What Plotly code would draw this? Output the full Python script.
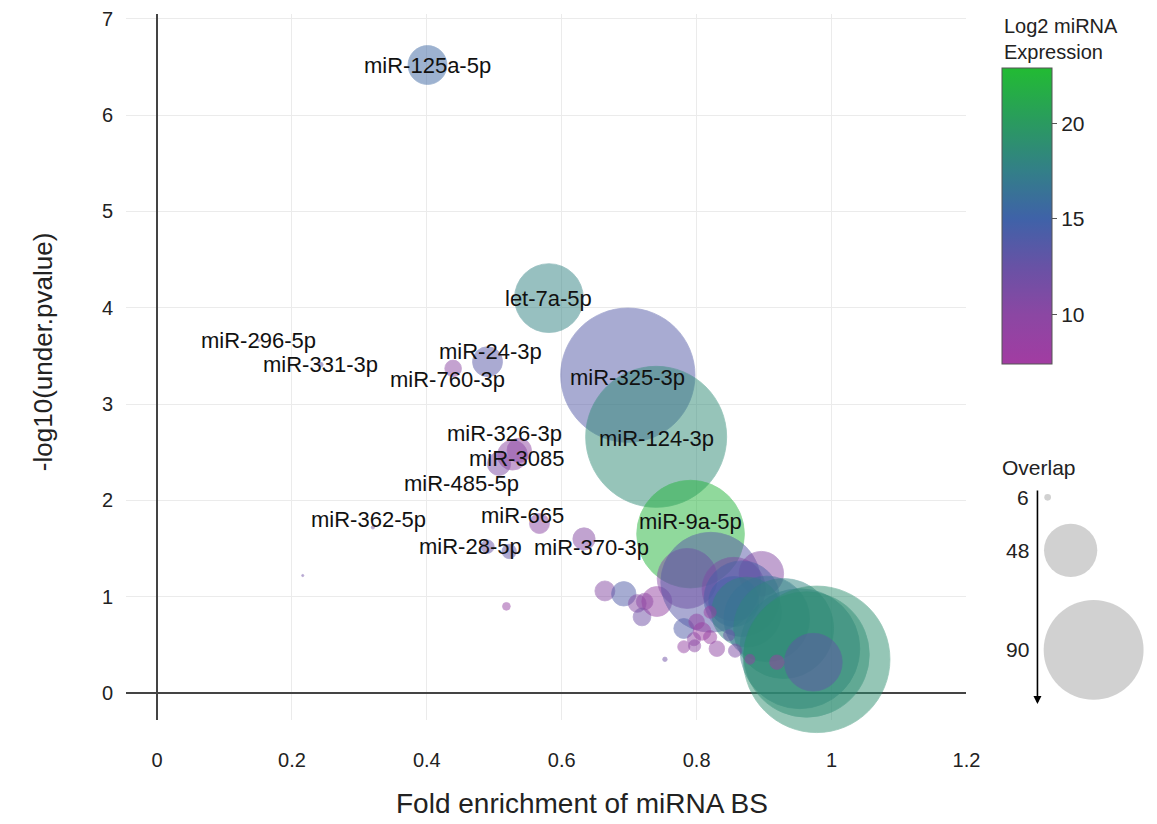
import plotly.graph_objects as go

# ---------------- data ----------------
mirna = ["miR-125a-5p", "let-7a-5p", "miR-296-5p", "miR-331-3p", "miR-760-3p", "miR-24-3p",
         "miR-325-3p", "miR-124-3p", "miR-326-3p", "miR-485-5p", "miR-3085", "miR-362-5p",
         "miR-28-5p", "miR-665", "miR-370-3p", "miR-9a-5p",
         "", "", "", "",
         "", "", "", "", "", "", "", "", "", "", "", "", "", "", "", "", "", "", "",
         "", "", "", "", "", "", "", "", "", "", "", "", ""]
fold_enrichment = [0.401, 0.581, 0.151, 0.243, 0.439, 0.490,
                   0.698, 0.740, 0.537, 0.507, 0.527, 0.320,
                   0.490, 0.567, 0.633, 0.791,
                   0.522, 0.216, 0.518, 0.753,
                   0.664, 0.692, 0.712, 0.723, 0.719, 0.741, 0.786, 0.821, 0.855, 0.896,
                   0.855, 0.867, 0.874, 0.904, 0.929, 0.953, 0.963, 0.978, 0.973,
                   0.781, 0.808, 0.820, 0.796, 0.781, 0.797, 0.830, 0.857, 0.879, 0.919,
                   0.820, 0.800, 0.848]
neg_log10_p = [6.52, 4.10, 3.66, 3.41, 3.37, 3.44,
               3.30, 2.66, 2.52, 2.38, 2.47, 1.72,
               1.52, 1.76, 1.60, 1.65,
               1.47, 1.22, 0.90, 0.35,
               1.06, 1.03, 0.93, 0.95, 0.79, 0.95, 1.19, 1.15, 1.08, 1.24,
               0.95, 0.98, 0.84, 0.77, 0.67, 0.46, 0.40, 0.35, 0.32,
               0.67, 0.64, 0.58, 0.56, 0.48, 0.49, 0.46, 0.44, 0.35, 0.32,
               0.84, 0.74, 0.60]
overlap = [35, 62, 2, 4, 15, 27,
           121, 127, 22, 21, 27, 3,
           12, 18, 20, 97,
           13, 2, 7, 4,
           18, 22, 16, 15, 16, 27, 54, 90, 57, 40,
           45, 68, 63, 77, 90, 108, 113, 132, 52,
           18, 16, 12, 12, 11, 11, 14, 12, 9, 13,
           11, 14, 10]
log2_expression = [15.5, 17.8, 12.0, 13.0, 10.0, 13.5,
                   13.8, 18.6, 9.5, 11.0, 10.0, 12.0,
                   12.5, 10.0, 10.5, 22.3,
                   13.0, 12.0, 9.0, 12.0,
                   10.5, 14.0, 10.5, 10.0, 12.0, 9.0, 10.5, 13.5, 11.0, 10.5,
                   15.0, 14.5, 18.0, 16.5, 18.0, 17.5, 18.5, 19.0, 13.0,
                   14.0, 8.0, 8.5, 9.5, 9.0, 10.0, 9.5, 11.0, 9.0, 7.8,
                   8.0, 9.0, 12.5]

legend_overlap = [6, 48, 90]
legend_labels = ["6", "48", "90"]
colorbar_ticks = [10, 15, 20]

# ---------------- styles ----------------
FONT = "Liberation Sans, Arial, sans-serif"
PX_PER_OVERLAP = 1.11
CMIN, CMAX = 7.4, 22.9
colorscale = [
    [0.0, "#a23ca2"],
    [0.168, "#8b47a3"],
    [0.329, "#6852a5"],
    [0.490, "#3f62a8"],
    [0.652, "#337f88"],
    [0.813, "#2a9a60"],
    [1.0, "#22bb33"],
]
# label offsets in pixels (dx right, dy down) relative to the bubble centre
label_offsets = {
    "miR-125a-5p": (0, 0), "let-7a-5p": (0, 0), "miR-296-5p": (0, 0), "miR-331-3p": (0, 0),
    "miR-760-3p": (-6, 11), "miR-24-3p": (3, -10), "miR-325-3p": (0, 2), "miR-124-3p": (0, 2),
    "miR-326-3p": (-15, -17), "miR-485-5p": (-38, 20), "miR-3085": (4, 3),
    "miR-362-5p": (-4, -8), "miR-28-5p": (-17, 0), "miR-665": (-17, -8),
    "miR-370-3p": (8, 9), "miR-9a-5p": (0, -13),
}

# plot geometry (pixels)
W, H = 1157, 824
L, R, T, B = 126, 0, 14, 104
PW, PH = W - L - R, H - T - B
MAIN_RIGHT = 978
LEG_LEFT = 990
CB_LEFT, CB_TOP = 1014, 68
LEG_CIRCLE_LEFT = 1057


def px_to_paper_x(px):
    return (px - L) / PW


def px_to_paper_y(py):
    return (H - B - py) / PH


fig = go.Figure()

fig.add_trace(go.Scatter(
    x=fold_enrichment, y=neg_log10_p, mode="markers", cliponaxis=False,
    text=mirna, hoverinfo="text+x+y",
    marker=dict(
        size=overlap, sizemode="diameter", sizeref=1 / PX_PER_OVERLAP, sizemin=1,
        color=log2_expression, colorscale=colorscale, cmin=CMIN, cmax=CMAX,
        opacity=0.5,
        line=dict(width=0.8, color=log2_expression, colorscale=colorscale, cmin=CMIN, cmax=CMAX),
        colorbar=dict(
            x=px_to_paper_x(CB_LEFT), xanchor="left", y=px_to_paper_y(CB_TOP), yanchor="top",
            len=296, lenmode="pixels", thickness=50, thicknessmode="pixels",
            xpad=0, ypad=0, outlinewidth=1, outlinecolor="#555555",
            tickvals=colorbar_ticks, ticks="outside", ticklen=5, tickcolor="#555555",
            tickfont=dict(family=FONT, size=21, color="#222222"),
        ),
    ),
    showlegend=False,
))

# size legend (on its own hidden axes, in pixel-like units)
legend_d = [v * PX_PER_OVERLAP for v in legend_overlap]
leg_x, leg_y = [], []
top = 494.0
for d in legend_d:
    leg_x.append(LEG_CIRCLE_LEFT + d / 2)
    leg_y.append(top + d / 2)
    top += d + 23
fig.add_trace(go.Scatter(
    x=leg_x, y=leg_y, xaxis="x2", yaxis="y2", mode="markers", cliponaxis=False,
    marker=dict(size=legend_overlap, sizemode="diameter", sizeref=1 / PX_PER_OVERLAP,
                color="#bdbdbd", line=dict(width=0)),
    hoverinfo="skip", showlegend=False,
))

annotations = []
for name, xv, yv in zip(mirna, fold_enrichment, neg_log10_p):
    if not name:
        continue
    dx, dy = label_offsets.get(name, (0, 0))
    annotations.append(dict(
        x=xv, y=yv, xref="x", yref="y", text=name, showarrow=False,
        xanchor="center", yanchor="middle",
        xshift=dx, yshift=-dy, font=dict(family=FONT, size=22, color="#111111"),
    ))

for lab, yv in zip(legend_labels, leg_y):
    annotations.append(dict(x=LEG_CIRCLE_LEFT - 14, y=yv, xref="x2", yref="y2", text=lab,
                            showarrow=False, xanchor="right", yanchor="middle",
                            font=dict(family=FONT, size=21, color="#222222")))
annotations.append(dict(x=LEG_CIRCLE_LEFT - 7, y=704, ax=LEG_CIRCLE_LEFT - 7, ay=489,
                        xref="x2", yref="y2", axref="x2", ayref="y2", text="", showarrow=True,
                        arrowhead=2, arrowsize=1, arrowwidth=1.6, arrowcolor="#000000"))
annotations.append(dict(x=px_to_paper_x(1012), y=px_to_paper_y(467), xref="paper", yref="paper",
                        text="Overlap", showarrow=False, xanchor="left", yanchor="middle",
                        font=dict(family=FONT, size=21, color="#222222")))
annotations.append(dict(x=px_to_paper_x(1014), y=px_to_paper_y(13), xref="paper", yref="paper",
                        text="Log2 miRNA<br>Expression", showarrow=False, xanchor="left",
                        yanchor="top", align="left",
                        font=dict(family=FONT, size=20, color="#222222")))
annotations.append(dict(x=px_to_paper_x(588), y=px_to_paper_y(803), xref="paper", yref="paper",
                        text="Fold enrichment of miRNA BS", showarrow=False,
                        xanchor="center", yanchor="middle",
                        font=dict(family=FONT, size=28, color="#222222")))
annotations.append(dict(x=px_to_paper_x(42), y=px_to_paper_y(352), xref="paper", yref="paper",
                        text="-log10(under.pvalue)", showarrow=False, textangle=-90,
                        xanchor="center", yanchor="middle",
                        font=dict(family=FONT, size=26, color="#222222")))

fig.update_layout(
    width=W, height=H, autosize=False,
    margin=dict(l=L, r=R, t=T, b=B, pad=0),
    paper_bgcolor="white", plot_bgcolor="white",
    font=dict(family=FONT, color="#222222"),
    xaxis=dict(
        domain=[0, (MAIN_RIGHT - L) / PW], range=[-0.046, 1.2],
        tickvals=[0, 0.2, 0.4, 0.6, 0.8, 1.0, 1.2],
        ticktext=["0", "0.2", "0.4", "0.6", "0.8", "1", "1.2"],
        showgrid=True, gridcolor="#ebebeb", gridwidth=1,
        zeroline=True, zerolinecolor="#444444", zerolinewidth=1.5,
        showline=False, ticks="outside", ticklen=22, tickcolor="rgba(0,0,0,0)",
        tickfont=dict(family=FONT, size=20, color="#222222"),
    ),
    yaxis=dict(
        range=[-0.28, 7.05], tickvals=[0, 1, 2, 3, 4, 5, 6, 7],
        showgrid=True, gridcolor="#ebebeb", gridwidth=1,
        zeroline=True, zerolinecolor="#444444", zerolinewidth=1.5,
        showline=False, ticks="outside", ticklen=8, tickcolor="rgba(0,0,0,0)",
        tickfont=dict(family=FONT, size=20, color="#222222"),
    ),
    xaxis2=dict(domain=[(LEG_LEFT - L) / PW, 1], range=[LEG_LEFT, W - R],
                visible=False, anchor="y2"),
    yaxis2=dict(domain=[0, (H - B - 440) / PH], range=[H - B, 440], visible=False, anchor="x2"),
    annotations=annotations,
)

fig.write_html(
    "out.html",
    config={"responsive": False},
    post_script=(
        "document.documentElement.style.overflow='hidden';"
        "document.body.style.overflow='hidden';"
        "document.body.style.margin='0';"
    ),
)
